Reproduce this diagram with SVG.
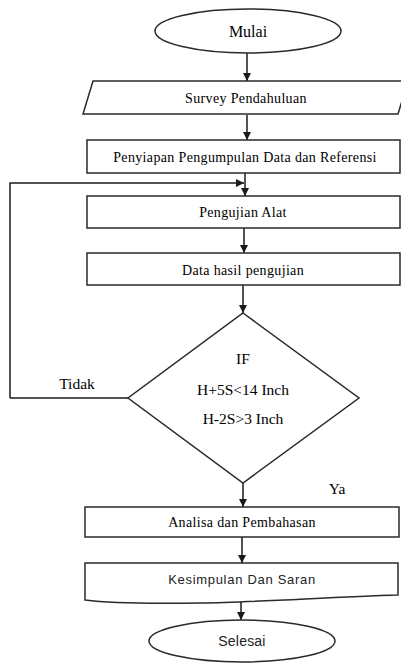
<svg xmlns="http://www.w3.org/2000/svg" width="401" height="663" viewBox="0 0 401 663">
<defs>
<marker id="ah" viewBox="0 0 10 10" refX="10" refY="5" markerWidth="8" markerHeight="8" markerUnits="userSpaceOnUse" orient="auto"><path d="M0,0 L10,5 L0,10 Z" fill="#1a1a1a"/></marker>
<style>
.shape{fill:#fff;stroke:#2a2a2a;stroke-width:1.5}
.conn{fill:none;stroke:#1a1a1a;stroke-width:1.5}
.t{font-family:'Liberation Serif',serif;font-size:14px;letter-spacing:0.35px;fill:#000;text-anchor:middle;dominant-baseline:central}
.s{font-family:'Liberation Sans',sans-serif;font-size:13px;letter-spacing:0.7px;fill:#222;text-anchor:middle;dominant-baseline:central}
.d{font-size:15.5px;letter-spacing:0}
</style>
</defs>
<rect width="401" height="663" fill="#fff"/>
<g id="connectors">
<path class="conn" d="M247,53 V81" marker-end="url(#ah)"/>
<path class="conn" d="M247,115 V140" marker-end="url(#ah)"/>
<path class="conn" d="M245,173 V196" marker-end="url(#ah)"/>
<path class="conn" d="M10,398 H128 M10,398 V183 H244" marker-end="url(#ah)"/>
<path class="conn" d="M244,228 V253" marker-end="url(#ah)"/>
<path class="conn" d="M243,285 V313" marker-end="url(#ah)"/>
<path class="conn" d="M243,483 V507" marker-end="url(#ah)"/>
<path class="conn" d="M242,537 V563" marker-end="url(#ah)"/>
<path class="conn" d="M241,600 V620" marker-end="url(#ah)"/>
</g>
<g id="mulai">
<ellipse class="shape" cx="248" cy="31" rx="93" ry="22"/>
<text class="t" x="248" y="31" style="font-size:16px;letter-spacing:0">Mulai</text>
</g>
<g id="survey">
<path class="shape" d="M93,81 H408 L398,114 H83 Z"/>
<text class="t" x="246" y="98">Survey Pendahuluan</text>
</g>
<g id="penyiapan">
<rect class="shape" x="87" y="140" width="313" height="33"/>
<text class="t" x="245" y="157">Penyiapan Pengumpulan Data dan Referensi</text>
</g>
<g id="pengujian">
<rect class="shape" x="87" y="196" width="313" height="32"/>
<text class="t" x="243" y="212">Pengujian Alat</text>
</g>
<g id="datahasil">
<rect class="shape" x="87" y="253" width="313" height="32"/>
<text class="t" x="243" y="270">Data hasil pengujian</text>
</g>
<g id="decision">
<path class="shape" d="M243,313 L359,398 L243,483 L128,398 Z"/>
<text class="t d" x="243" y="358">IF</text>
<text class="t d" x="243" y="389">H+5S&lt;14 Inch</text>
<text class="t d" x="243" y="418">H-2S&gt;3 Inch</text>
</g>
<g id="labels">
<text class="t d" x="77" y="383">Tidak</text>
<text class="t d" x="337" y="488">Ya</text>
</g>
<g id="analisa">
<rect class="shape" x="85" y="507" width="314" height="30"/>
<text class="t" x="242" y="522">Analisa dan Pembahasan</text>
</g>
<g id="kesimpulan">
<path class="shape" d="M85,563 H398 V595 C330,597 260,602 200,603 C140,604 100,602 85,600 Z"/>
<text class="s" x="242" y="579">Kesimpulan Dan Saran</text>
</g>
<g id="selesai">
<ellipse class="shape" cx="242" cy="641" rx="93" ry="21"/>
<text class="s" x="242" y="641" style="font-size:14px;letter-spacing:0.2px">Selesai</text>
</g>
</svg>
